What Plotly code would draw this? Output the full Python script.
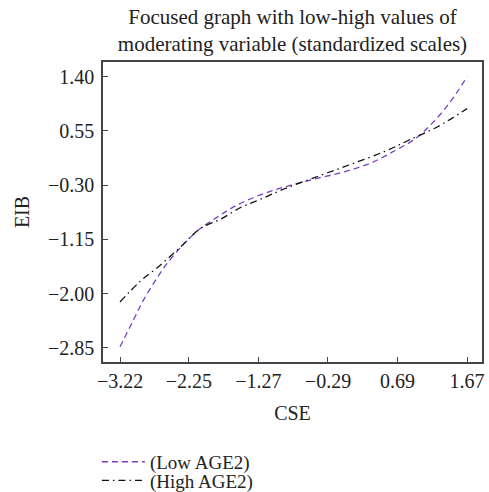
import plotly.graph_objects as go

# CSE tick values / labels
x_ticks = [-3.22, -2.25, -1.27, -0.29, 0.69, 1.67]
y_ticks = [-2.85, -2.00, -1.15, -0.30, 0.55, 1.40]

# Low AGE2 series
low_x = [-3.22, -3.03, -2.89, -2.72, -2.56, -2.32, -2.09, -1.85, -1.62, -1.24,
         -0.81, -0.43, -0.06, 0.32, 0.65, 0.93, 1.17, 1.43, 1.67]
low_y = [-2.83, -2.41, -2.10, -1.79, -1.53, -1.22, -0.98, -0.80, -0.64, -0.45,
         -0.30, -0.19, -0.09, 0.05, 0.24, 0.42, 0.66, 1.00, 1.40]

# High AGE2 series
high_x = [-3.22, -2.94, -2.65, -2.37, -2.09, -1.80, -1.52, -1.24, -0.91, -0.43,
          0.04, 0.51, 0.84, 1.26, 1.67]
high_y = [-2.13, -1.81, -1.55, -1.27, -0.98, -0.83, -0.65, -0.52, -0.36, -0.16,
          0.03, 0.23, 0.40, 0.62, 0.90]

FONT = "Liberation Serif"
TXT = "#222222"

fig = go.Figure()
fig.add_trace(go.Scatter(x=low_x, y=low_y, mode="lines", name="(Low AGE2)", legend="legend",
                         line=dict(color="#7B3FC4", width=1.3, dash="6px,4px", shape="spline")))
fig.add_trace(go.Scatter(x=high_x, y=high_y, mode="lines", name="(High AGE2)", legend="legend2",
                         line=dict(color="#111111", width=1.3, dash="7px,4px,1.5px,4px", shape="spline")))

axis_common = dict(showgrid=False, zeroline=False, showline=True, mirror=True,
                   linecolor="#444444", linewidth=1.5, ticks="inside", ticklen=5,
                   tickcolor="#444444", tickwidth=1.3,
                   tickfont=dict(family=FONT, size=20, color=TXT))

leg_common = dict(xanchor="left", yanchor="middle", orientation="v",
                  font=dict(family=FONT, size=19, color=TXT),
                  bgcolor="rgba(0,0,0,0)", itemwidth=43)

fig.update_layout(
    width=489, height=492,
    margin=dict(l=103, r=7, t=62, b=130, autoexpand=False),
    paper_bgcolor="white", plot_bgcolor="white",
    title=dict(text="Focused graph with low-high values of<br>moderating variable (standardized scales)",
               x=0.5, xref="paper", xanchor="center", y=0.952, yref="container", yanchor="top",
               font=dict(family=FONT, size=21, color=TXT)),
    xaxis=dict(range=[-3.46, 1.88], tickvals=x_ticks,
               ticktext=[f"{v:.2f}".replace("-", "\u2212") for v in x_ticks],
               title=dict(text="CSE", font=dict(family=FONT, size=20, color=TXT), standoff=15),
               **axis_common),
    yaxis=dict(range=[-3.07, 1.63], tickvals=y_ticks,
               ticktext=[f"{v:.2f}".replace("-", "\u2212") for v in y_ticks],
               title=dict(text="EIB", font=dict(family=FONT, size=20, color=TXT), standoff=13),
               ticklabelstandoff=3,
               **axis_common),
    showlegend=True,
    legend=dict(x=-0.016, y=-0.333, **leg_common),
    legend2=dict(x=-0.016, y=-0.395, **leg_common),
)

fig.write_html("out.html", config={"displayModeBar": False},
               post_script="document.body.style.margin='0px';")
